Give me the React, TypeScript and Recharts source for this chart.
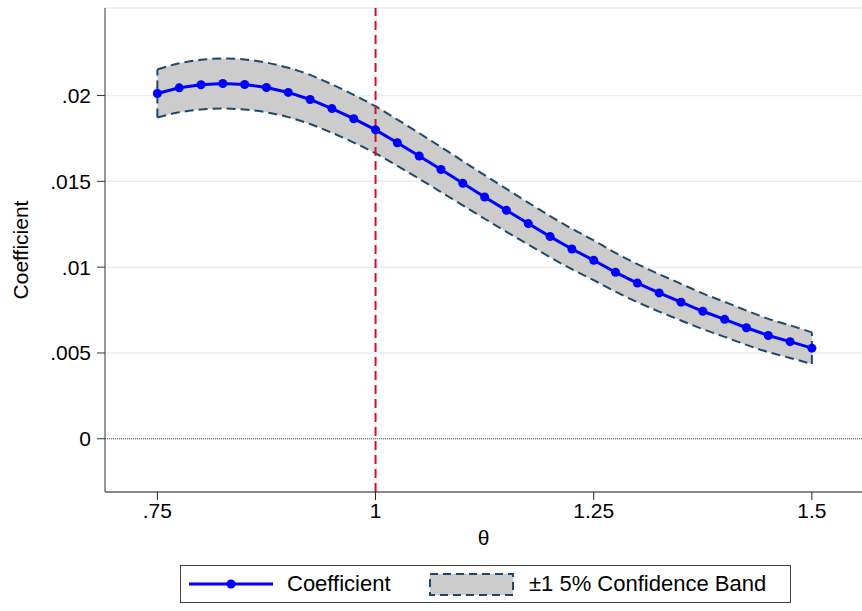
import {
  ComposedChart,
  Area,
  Line,
  XAxis,
  YAxis,
  CartesianGrid,
  ReferenceLine,
} from "recharts";

// theta grid and estimates
const theta = [
  0.75, 0.775, 0.8, 0.825, 0.85, 0.875, 0.9, 0.925, 0.95, 0.975, 1.0, 1.025, 1.05, 1.075, 1.1,
  1.125, 1.15, 1.175, 1.2, 1.225, 1.25, 1.275, 1.3, 1.325, 1.35, 1.375, 1.4, 1.425, 1.45, 1.475,
  1.5,
];
const coef = [
  0.02012, 0.02045, 0.02063, 0.0207, 0.02064, 0.02047, 0.02018, 0.01977, 0.01924, 0.01865, 0.018,
  0.01725, 0.01648, 0.01569, 0.01489, 0.01409, 0.01331, 0.01254, 0.01178, 0.01106, 0.0104, 0.0097,
  0.00907, 0.0085, 0.00796, 0.00743, 0.00696, 0.00647, 0.00602, 0.00566, 0.00528,
];
const upper = [
  0.02152, 0.02188, 0.02208, 0.02216, 0.0221, 0.02192, 0.02162, 0.0212, 0.02065, 0.02004, 0.01937,
  0.0186, 0.01781, 0.017, 0.01618, 0.01536, 0.01456, 0.01376, 0.01298, 0.01224, 0.01156, 0.01083,
  0.01018, 0.00959, 0.00903, 0.00847, 0.00798, 0.00747, 0.00699, 0.00661, 0.0062,
];
const lower = [
  0.01872, 0.01902, 0.01918, 0.01924, 0.01918, 0.01902, 0.01874, 0.01834, 0.01783, 0.01726, 0.01663,
  0.0159, 0.01515, 0.01438, 0.0136, 0.01282, 0.01206, 0.01132, 0.01058, 0.00988, 0.00924, 0.00857,
  0.00796, 0.00741, 0.00689, 0.00639, 0.00594, 0.00547, 0.00505, 0.00471, 0.00436,
];

const xTicks = [0.75, 1, 1.25, 1.5];
const xTickLabels = [".75", "1", "1.25", "1.5"];
const yTicks = [0, 0.005, 0.01, 0.015, 0.02];
const yTickLabels = ["0", ".005", ".01", ".015", ".02"];

const data = theta.map((t, i) => ({
  theta: t,
  coef: coef[i],
  band: [lower[i], upper[i]],
}));

const FONT = "'Liberation Sans', Arial, sans-serif";
const BAND_STROKE = "#1d4a6c";

const Legend = () => (
  <div
    style={{
      position: "absolute",
      left: 180,
      top: 565,
      width: 609,
      height: 36,
      border: "1.5px solid #444",
      background: "#fff",
      fontFamily: FONT,
      fontSize: 22,
      color: "#000",
    }}
  >
    <svg width={90} height={36} style={{ position: "absolute", left: 6, top: 0 }}>
      <line x1={2} y1={18} x2={86} y2={18} stroke="#0000ff" strokeWidth={3} />
      <circle cx={44} cy={18} r={4.5} fill="#0000ff" />
    </svg>
    <span style={{ position: "absolute", left: 106, top: 5 }}>Coefficient</span>
    <svg width={90} height={36} style={{ position: "absolute", left: 247, top: 0 }}>
      <rect
        x={2}
        y={8}
        width={83}
        height={21}
        fill="#cccccc"
        stroke={BAND_STROKE}
        strokeWidth={2}
        strokeDasharray="8 5"
      />
    </svg>
    <span style={{ position: "absolute", left: 348, top: 5 }}>±1 5% Confidence Band</span>
  </div>
);

const App = () => {
  const n = theta.length - 1;
  return (
    <div style={{ position: "absolute", left: 0, top: 0, width: 862, height: 611, background: "#fff" }}>
      <ComposedChart
        width={862}
        height={611}
        data={data}
        margin={{ top: 8, right: 0, left: 0, bottom: 0 }}
      >
        <CartesianGrid horizontal vertical={false} stroke="#e6eef2" strokeWidth={1.5} />
        <XAxis
          dataKey="theta"
          type="number"
          domain={[0.69, 1.5574]}
          ticks={xTicks}
          tickFormatter={(v) => xTickLabels[xTicks.indexOf(v)]}
          allowDataOverflow
          height={119}
          tickSize={8}
          tickMargin={3}
          stroke="#222"
          tick={{ fill: "#000", fontSize: 21, fontFamily: FONT }}
          label={{
            value: "θ",
            position: "insideTop",
            offset: 38,
            fill: "#000",
            fontSize: 21,
            fontFamily: FONT,
          }}
        />
        <YAxis
          type="number"
          domain={[-0.0031, 0.0251]}
          ticks={yTicks}
          tickFormatter={(v) => yTickLabels[yTicks.indexOf(v)]}
          allowDataOverflow
          width={105}
          tickSize={8}
          tickMargin={6}
          stroke="#333"
          tick={{ fill: "#000", fontSize: 21, fontFamily: FONT }}
          label={{
            value: "Coefficient",
            angle: -90,
            position: "insideLeft",
            offset: 21,
            fill: "#000",
            fontSize: 21,
            fontFamily: FONT,
            style: { textAnchor: "middle" },
          }}
        />
        <ReferenceLine y={0} stroke="#555" strokeDasharray="1 1" strokeWidth={1} />
        <Area
          dataKey="band"
          type="monotone"
          fill="#cccccc"
          fillOpacity={1}
          stroke={BAND_STROKE}
          strokeWidth={2}
          strokeDasharray="9 5"
          isAnimationActive={false}
          dot={false}
          activeDot={false}
        />
        <ReferenceLine
          segment={[
            { x: theta[0], y: lower[0] },
            { x: theta[0], y: upper[0] },
          ]}
          stroke={BAND_STROKE}
          strokeWidth={2}
          strokeDasharray="9 5"
        />
        <ReferenceLine
          segment={[
            { x: theta[n], y: lower[n] },
            { x: theta[n], y: upper[n] },
          ]}
          stroke={BAND_STROKE}
          strokeWidth={2}
          strokeDasharray="9 5"
        />
        <ReferenceLine x={1} stroke="#cc1133" strokeWidth={2} strokeDasharray="9 5" />
        <Line
          dataKey="coef"
          type="linear"
          stroke="#0000ff"
          strokeWidth={3}
          dot={{ r: 4.5, fill: "#0000ff", stroke: "#0000ff", strokeWidth: 0 }}
          activeDot={false}
          isAnimationActive={false}
        />
      </ComposedChart>
      <Legend />
    </div>
  );
};

export default App;
